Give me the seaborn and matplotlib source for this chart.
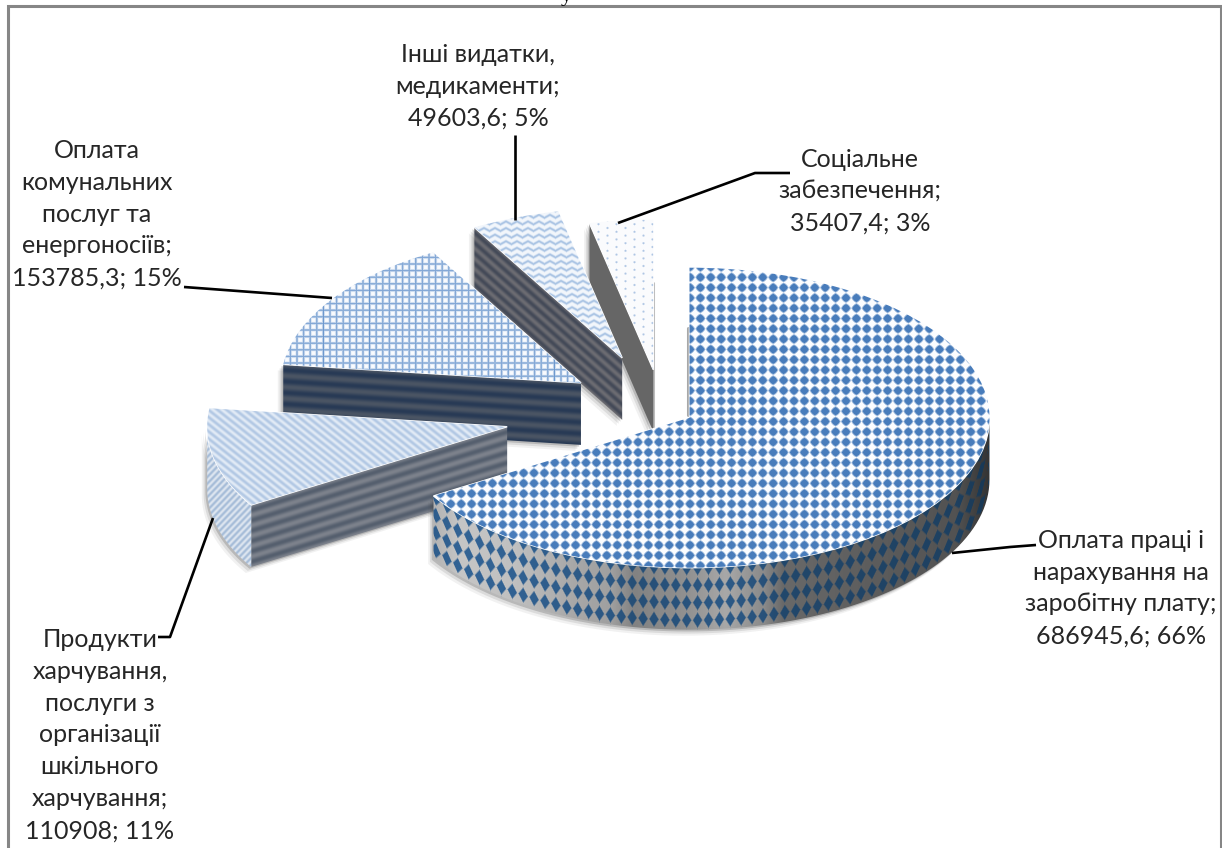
import numpy as np
import matplotlib
matplotlib.use('Agg')
from matplotlib import pyplot as plt
from matplotlib.patches import Polygon
import seaborn as sns

# datos del grafico
categories = ['Оплата праці і\nнарахування на\nзаробітну плату',
              'Продукти\nхарчування,\nпослуги з\nорганізації\nшкільного\nхарчування',
              'Оплата\nкомунальних\nпослуг та\nенергоносіїв',
              'Інші видатки,\nмедикаменти',
              'Соціальне\nзабезпечення']
values = [686945.6, 110908, 153785.3, 49603.6, 35407.4]
explode = [0.105, 0.528, 0.325, 0.372, 0.27]

W, H = 1222, 848
CX, CY = 662, 410     # centro del pie en pixeles
RX, RY = 300, 150     # semiejes de la elipse
DEPTH = 62 / RY       # grueso del pie en unidades de y

sns.set_theme(style='white')
plt.rcParams['font.family'] = ['Lato', 'Noto Sans', 'DejaVu Sans']

fig = plt.figure(figsize=(W / 100, H / 100), dpi=100)
ax = fig.add_axes([0, 0, 1, 1])
wedges, _ = ax.pie(values, explode=explode, startangle=90, counterclock=False,
                   radius=1, colors=['white'] * 5)
ax.set_aspect('auto')
xlim = (-CX / RX, (W - CX) / RX)
ylim = ((CY - H) / RY, CY / RY)
extent = (xlim[0], xlim[1], ylim[0], ylim[1])

X, Y = np.meshgrid(np.arange(W) + 0.5, np.arange(H) + 0.5)


def mix(a, c0, c1):
    a = a[..., None]
    return (np.array(c0) * (1 - a) + np.array(c1) * a) / 255


def to_px(cx, cy):
    return CX + cx * RX, CY - cy * RY


# texturas de las caras superiores
def tex_main():
    u = ((X - 690) / 10.4 + 0.5) % 1 - 0.5
    v = ((Y - 267) / 10.3 + 0.5) % 1 - 0.5
    d = np.sqrt(u ** 2 + v ** 2) * 0.55 + (np.abs(u) + np.abs(v)) * 0.45
    return mix(np.clip((0.54 - d) / 0.2, 0, 1), (252, 253, 255), (72, 124, 187))


def tex_food():
    s = np.cos(2 * np.pi * (X * 0.62 - Y * 0.78) / 5.6)
    return mix(0.5 + 0.5 * s, (226, 235, 246), (178, 200, 228))


def tex_util():
    ax_ = np.exp(-(((X / 6.6 + 0.5) % 1 - 0.5) * 6.6 / 1.1) ** 2)
    ay_ = np.exp(-(((Y / 6.6 + 0.5) % 1 - 0.5) * 6.6 / 1.1) ** 2)
    a = np.maximum(ax_, ay_) * 0.75
    a = np.maximum(a, np.exp(-(((X / 46.2 + 0.5) % 1 - 0.5) * 46.2 / 0.7) ** 2) * 0.9)
    return mix(a, (250, 252, 255), (92, 140, 200))


def tex_other():
    tri = np.abs((X / 11) % 1 - 0.5) * 2
    a = 0.5 + 0.5 * np.cos(2 * np.pi * (Y + 3 * tri) / 6.6)
    return mix(a ** 2, (243, 247, 252), (170, 196, 228))


def tex_social():
    col = np.floor(X / 9)
    u = (X / 9) % 1 - 0.5
    v = ((Y + col * 3.8) / 7.6) % 1 - 0.5
    d = np.sqrt((u * 9) ** 2 + (v * 7.6) ** 2)
    return mix(np.clip((1.6 - d) / 1.2, 0, 1), (250, 251, 253), (175, 198, 228))


# textura de rayas para las caras radiales
def tex_stripes(p0, p1, n, c0, c1):
    slope = (p1[1] - p0[1]) / (p1[0] - p0[0])
    t = (Y - (p0[1] + slope * (X - p0[0]))) / 62
    return mix(0.5 + 0.5 * np.cos(2 * np.pi * n * t), c0, c1)


def tex_main_side(c):
    # rombos azules sobre gris, siguen la curva del borde
    yc = c[1] + RY * np.sqrt(np.clip(1 - ((X - c[0]) / RX) ** 2, 0, 1))
    t = Y - yc
    u = (X / 10.9 + 0.5) % 1 - 0.5
    v = (t / 17.5 + 0.5) % 1 - 0.5
    a = np.clip((0.5 - (np.abs(u) + np.abs(v))) / 0.14, 0, 1)
    gx = [433, 460, 515, 573, 611, 634, 688, 726, 764, 783, 880, 956, 986, 992]
    gy = [178, 198, 192, 168, 160, 130, 145, 168, 138, 105, 92, 82, 55, 50]
    g = np.interp(X, gx, gy)
    out = np.stack([g, g, g], axis=-1)
    blue = np.stack([g * 0.18 + 15, g * 0.30 + 40, g * 0.45 + 60], axis=-1)
    return (out * (1 - a[..., None]) + blue * a[..., None]) / 255


def tex_food_side():
    s = np.cos(2 * np.pi * (X * 0.72 + Y * 0.69) / 4.6)
    return mix(0.5 + 0.5 * s, (222, 230, 240), (165, 188, 216))


def show(tex, clip, z):
    im = ax.imshow(tex, extent=extent, origin='upper', aspect='auto',
                   interpolation='nearest', zorder=z)
    im.set_clip_path(clip)


def add_poly(pts, z):
    p = Polygon(pts, closed=True, transform=ax.transData, facecolor='none',
                edgecolor='none', zorder=z)
    ax.add_patch(p)
    return p


def add_shadow(pts, z):
    for dx, dy, al in [(0.006, -0.012, 0.22), (0.012, -0.026, 0.12), (0.018, -0.04, 0.07)]:
        ax.add_patch(Polygon(pts + np.array([-dx, dy]), closed=True, facecolor='#404040',
                             edgecolor='none', alpha=al, zorder=z))


def arc(c, t0, t1):
    th = np.radians(np.linspace(t0, t1, 80))
    return np.column_stack([c[0] + np.cos(th), c[1] + np.sin(th)])


face_styles = [None,
               (6.0, (85, 95, 110), (125, 130, 140)),
               (5.5, (40, 58, 85), (75, 85, 100)),
               (6.0, (68, 74, 88), (108, 108, 114)),
               (0, (102, 102, 102), (102, 102, 102))]
top_textures = [tex_main(), tex_food(), tex_util(), tex_other(), tex_social()]
slice_z = [50, 40, 30, 20, 10]

for i, w in enumerate(wedges):
    z = slice_z[i]
    c = np.array(w.center)
    down = np.array([0, -DEPTH])

    if i == 0:
        # borde exterior visible de la rebanada grande
        top = arc(c, w.theta1, 0)
        side = np.vstack([top, (top + down)[::-1]])
        add_shadow(side, z)
        show(tex_main_side(to_px(*c)), add_poly(side, z + 1), z + 1)
    else:
        # cara radial, en el extremo que mira al frente
        t = w.theta2
        outer = c + np.array([np.cos(np.radians(t)), np.sin(np.radians(t))])
        face = np.array([c, outer, outer + down, c + down])
        add_shadow(face, z)
        n, c0, c1 = face_styles[i]
        show(tex_stripes(to_px(*c), to_px(*outer), n, c0, c1), add_poly(face, z + 1), z + 1)
        if i == 1:
            top = arc(c, -180, t)
            side = np.vstack([top, (top + down)[::-1]])
            add_shadow(side, z)
            show(tex_food_side(), add_poly(side, z + 1), z + 1)

    w.set_zorder(z + 3)
    show(top_textures[i], w, z + 4)

ax.set_xlim(xlim)
ax.set_ylim(ylim)
ax.set_axis_off()
sns.despine(ax=ax, left=True, bottom=True)

# capa en pixeles para marco, textos y lineas guia
ov = fig.add_axes([0, 0, 1, 1], facecolor='none')
ov.set_xlim(0, W)
ov.set_ylim(H, 0)
ov.set_axis_off()

# sombras verticales detras de las rebanadas
ax.plot((np.array([653, 653]) - CX) / RX, (CY - np.array([283, 428])) / RY,
        color='#bdbdbd', lw=2.2, zorder=5)
ax.plot((np.array([687.5, 687.5]) - CX) / RX, (CY - np.array([328, 415])) / RY,
        color='#a8a8a8', lw=2.2, zorder=5)

ov.plot([8, 8, 1220.5, 1220.5], [H, 6, 6, H], color='#868686', lw=2.2, solid_joinstyle='miter')
ov.text(566, 1, 'у', family='Liberation Serif', fontsize=16, ha='center', va='baseline',
        color='black', clip_on=True)

leaders = [([952, 1010, 1036], [553, 547, 545]),
           ([213, 170, 158], [518, 637, 637]),
           ([184, 332], [287, 298]),
           ([515, 515], [135, 220]),
           ([618, 755, 790], [223, 173, 173])]
for lx, ly in leaders:
    ov.plot(lx, ly, color='black', lw=1.9, solid_capstyle='butt')

label_pos = [(1121, 588), (100, 735), (97, 214), (478, 86), (860, 191)]
total = sum(values)
for cat, v, (lx, ly) in zip(categories, values, label_pos):
    txt = f"{cat};\n{str(v).replace('.', ',')}; {round(v / total * 100)}%"
    ov.text(lx, ly, txt, ha='center', va='center', multialignment='center',
            fontsize=18, color='#262626', linespacing=1.47)

fig.savefig('out.png', dpi=100)
